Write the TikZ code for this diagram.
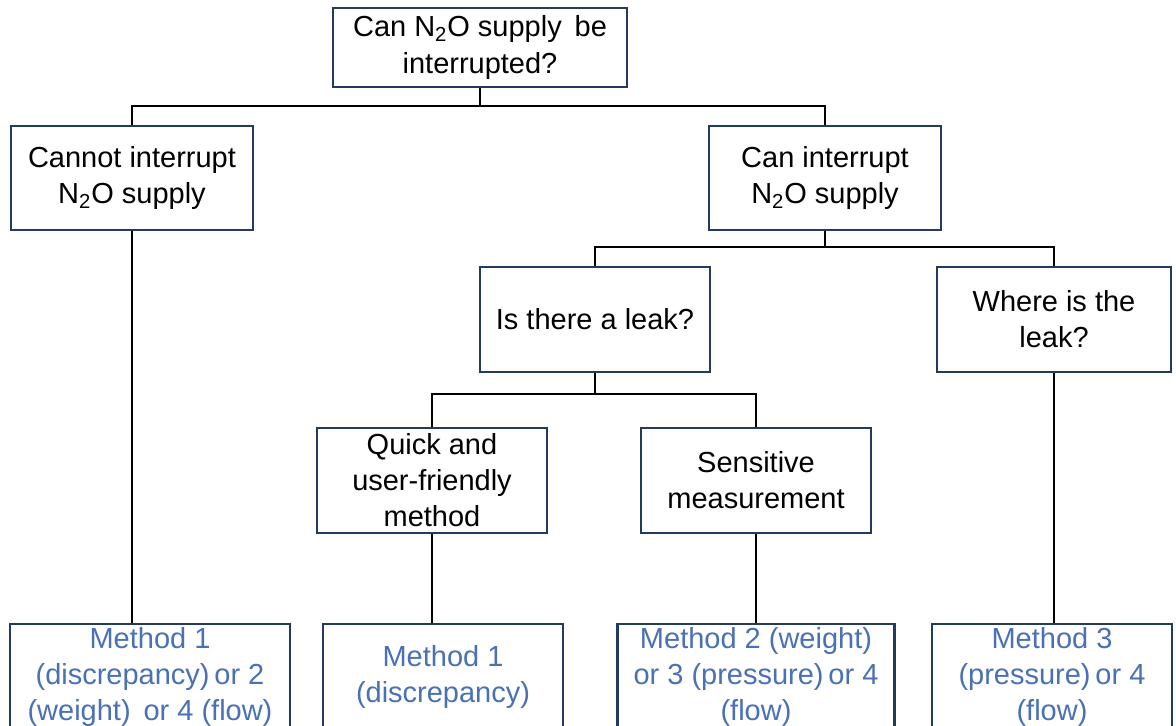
\documentclass[tikz,border=0pt]{standalone}
\usepackage{fontspec}
\setmainfont{Liberation Sans}
\usetikzlibrary{positioning}
\definecolor{boxnavy}{HTML}{243A5E}
\definecolor{methodblue}{HTML}{4A70B5}
\tikzset{
  qbox/.style={draw=boxnavy, line width=1.4pt, fill=white, align=center,
    inner sep=2pt, font=\fontsize{16.5}{20.5}\selectfont},
  method/.style={qbox, text=methodblue, minimum height=106*0.02cm},
  link/.style={draw=black, line width=1.4pt}
}
\begin{document}
\begin{tikzpicture}[x=0.02cm,y=-0.02cm]
\useasboundingbox (0,0) rectangle (1176,726);
\clip (0,0) rectangle (1176,726);
% question boxes
\node[qbox, minimum width=294*0.02cm, minimum height=79*0.02cm] (top) at (480,47.5)
  {Can N\textsubscript{2}O supply\, be\\interrupted?};
\node[qbox, minimum width=242*0.02cm, minimum height=104*0.02cm] (cannot) at (132,178)
  {Cannot interrupt\\N\textsubscript{2}O supply};
\node[qbox, minimum width=232*0.02cm, minimum height=104*0.02cm] (can) at (825,178)
  {Can interrupt\\N\textsubscript{2}O supply};
\node[qbox, minimum width=230*0.02cm, minimum height=105*0.02cm] (leak) at (595,319.5)
  {Is there a leak?};
\node[qbox, minimum width=234*0.02cm, minimum height=105*0.02cm] (where) at (1054,319.5)
  {Where is the\\leak?};
\node[qbox, minimum width=230*0.02cm, minimum height=105*0.02cm] (quick) at (432,480.5)
  {Quick and\\user-friendly\\method};
\node[qbox, minimum width=230*0.02cm, minimum height=105*0.02cm] (sens) at (756,480.5)
  {Sensitive\\measurement};
% method boxes
\node[method, minimum width=280*0.02cm] (mone) at (150,677)
  {Method 1\\(discrepancy)\,or 2\\(weight)\, or 4 (flow)};
\node[method, minimum width=240*0.02cm] (mtwo) at (443,677)
  {Method 1\\(discrepancy)};
\node[method, minimum width=277*0.02cm] (mthree) at (756,677)
  {Method 2 (weight)\\or 3 (pressure)\,or 4\\(flow)};
\node[method, minimum width=240*0.02cm] (mfour) at (1052,677)
  {Method 3\\(pressure)\,or 4\\(flow)};
% connectors
\draw[link] (top.south) -- ++(0,18) -| (cannot.north);
\draw[link] (top.south) -- ++(0,18) -| (can.north);
\draw[link] (can.south) -- ++(0,16) -| (leak.north);
\draw[link] (can.south) -- ++(0,16) -| (where.north);
\draw[link] (leak.south) -- ++(0,21) -| (quick.north);
\draw[link] (leak.south) -- ++(0,21) -| (sens.north);
\draw[link] (cannot.south) -- (cannot.south |- mone.north);
\draw[link] (quick.south) -- (quick.south |- mtwo.north);
\draw[link] (sens.south) -- (mthree.north);
\draw[link] (where.south) -- (where.south |- mfour.north);
\end{tikzpicture}
\end{document}
